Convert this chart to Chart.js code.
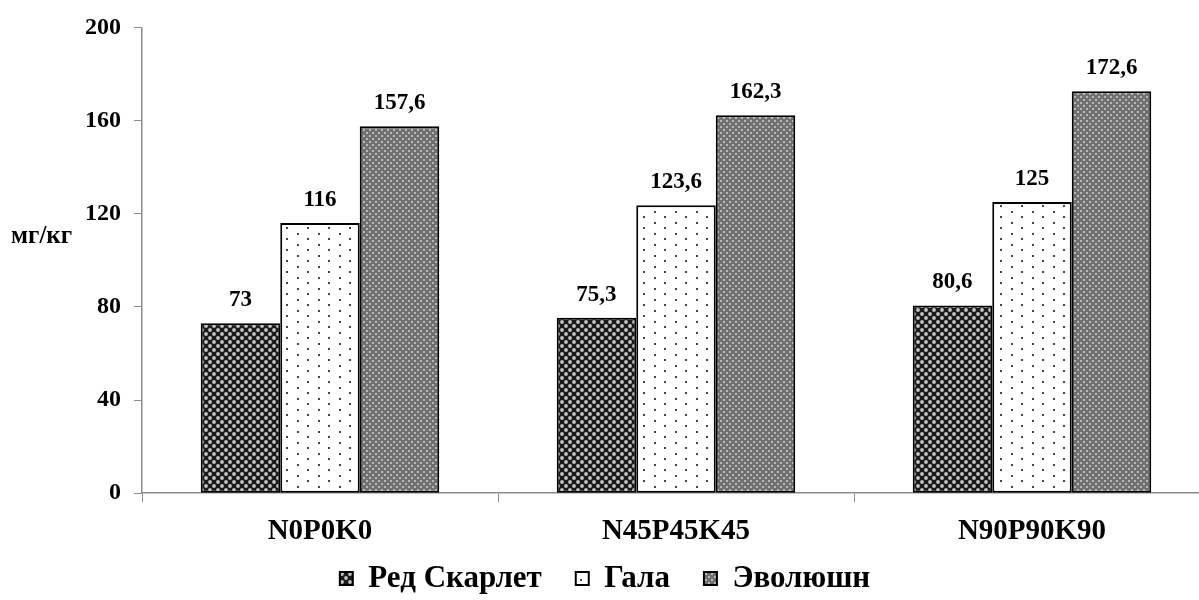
<!DOCTYPE html>
<html>
<head>
<meta charset="utf-8">
<script src="https://cdn.jsdelivr.net/npm/chart.js@4.4.1/dist/chart.umd.min.js"></script>
<style>
    html, body { margin: 0; padding: 0; background: #fff; overflow: hidden; }
    #wrap { width: 1210px; height: 600px; position: relative; }
</style>
</head>
<body>
<div id="wrap"><canvas id="chart"></canvas></div>
<script>
    const categories = ['N0P0K0', 'N45P45K45', 'N90P90K90'];
    const seriesNames = ['Ред Скарлет', 'Гала', 'Эволюшн'];
    const redScarlet = [73, 75.3, 80.6];
    const gala = [116, 123.6, 125];
    const evolution = [157.6, 162.3, 172.6];
    const yTicks = [0, 40, 80, 120, 160, 200];
    const yUnit = 'мг/кг';

    const FONT = '"Liberation Serif", "Times New Roman", serif';
    const AXIS_GREY = '#8c8c8c';
    const LEGEND_TOP = 529;

    // small tiles used as bar fills
    function makePattern(w, h, draw) {
        const c = document.createElement('canvas');
        c.width = w;
        c.height = h;
        const g = c.getContext('2d');
        draw(g);
        return g.createPattern(c, 'repeat');
    }

    const crossPattern = makePattern(8, 8, g => {
        g.fillStyle = '#1a1a1a';
        g.fillRect(0, 0, 8, 8);
        g.fillStyle = '#c4c4c4';
        g.beginPath();
        g.arc(2, 2, 1.9, 0, Math.PI * 2);
        g.arc(6, 6, 1.9, 0, Math.PI * 2);
        g.fill();
    });

    const dotPattern = makePattern(21, 11, g => {
        g.fillStyle = '#fff';
        g.fillRect(0, 0, 21, 11);
        g.fillStyle = '#444';
        g.fillRect(3, 2, 2, 2);
        g.fillRect(13, 7, 2, 2);
    });

    const checkPattern = makePattern(6, 6, g => {
        g.fillStyle = '#707070';
        g.fillRect(0, 0, 6, 6);
        g.fillStyle = '#b8b8b8';
        g.fillRect(0, 0, 2, 2);
        g.fillRect(3, 3, 2, 2);
    });

    const valueLabels = {
        id: 'valueLabels',
        afterDatasetsDraw(chart) {
            const ctx = chart.ctx;
            ctx.save();
            ctx.font = 'bold 23px ' + FONT;
            ctx.fillStyle = '#000';
            ctx.textAlign = 'center';
            ctx.textBaseline = 'alphabetic';
            chart.data.datasets.forEach((ds, i) => {
                chart.getDatasetMeta(i).data.forEach((bar, j) => {
                    const txt = String(ds.data[j]).replace('.', ',');
                    ctx.fillText(txt, bar.x, bar.y - 17);
                });
            });
            ctx.restore();
        }
    };

    const unitLabel = {
        id: 'unitLabel',
        afterDraw(chart) {
            const ctx = chart.ctx;
            const y = chart.scales.y.getPixelForValue(110);
            ctx.save();
            ctx.font = 'bold 25px ' + FONT;
            ctx.fillStyle = '#000';
            ctx.textAlign = 'left';
            ctx.textBaseline = 'middle';
            ctx.fillText(yUnit, 11, y);
            ctx.restore();
        }
    };

    // the legend's own padding makes its box too tall; squeeze it for layout, then pin it
    const legendSqueeze = {
        id: 'legendSqueeze',
        beforeLayout(chart) {
            const lg = chart.legend;
            if (!lg || lg._squeezed) return;
            const fit = lg.fit;
            lg.fit = function () {
                fit.call(this);
                this.height = 39;
            };
            lg._squeezed = true;
        },
        afterLayout(chart) {
            const lg = chart.legend;
            if (!lg) return;
            lg.top = LEGEND_TOP;
            lg.bottom = chart.height;
            lg.height = lg.bottom - lg.top;
        }
    };

    const ctx = document.getElementById('chart').getContext('2d');
    new Chart(ctx, {
        type: 'bar',
        data: {
            labels: categories,
            datasets: [
                { label: seriesNames[0], data: redScarlet, backgroundColor: crossPattern },
                { label: seriesNames[1], data: gala, backgroundColor: dotPattern },
                { label: seriesNames[2], data: evolution, backgroundColor: checkPattern }
            ].map(d => Object.assign(d, {
                borderColor: '#000',
                borderWidth: 2,
                borderSkipped: false,
                categoryPercentage: 0.67,
                barPercentage: 1.0
            }))
        },
        options: {
            responsive: true,
            maintainAspectRatio: false,
            animation: false,
            layout: { padding: { top: 23, right: 0, bottom: 0, left: 0 } },
            scales: {
                x: {
                    grid: { offset: true, drawOnChartArea: false, drawTicks: true, tickLength: 9, color: AXIS_GREY },
                    border: { color: AXIS_GREY, width: 1.5 },
                    ticks: { color: '#000', font: { family: FONT, size: 29, weight: 'bold' }, padding: 12 }
                },
                y: {
                    min: 0,
                    max: 200,
                    afterFit: s => { s.width = 142; },
                    afterBuildTicks: s => { s.ticks = yTicks.map(v => ({ value: v })); },
                    grid: { drawOnChartArea: false, drawTicks: true, tickLength: 8, color: AXIS_GREY },
                    border: { color: AXIS_GREY, width: 1.5 },
                    ticks: { color: '#000', font: { family: FONT, size: 24, weight: 'bold' }, padding: 13 }
                }
            },
            plugins: {
                legend: {
                    position: 'bottom',
                    labels: {
                        color: '#000',
                        font: { family: FONT, size: 31, weight: 'bold' },
                        boxWidth: 13,
                        boxHeight: 13,
                        padding: 34
                    }
                },
                tooltip: { enabled: false }
            }
        },
        plugins: [legendSqueeze, valueLabels, unitLabel]
    });
</script>
</body>
</html>
